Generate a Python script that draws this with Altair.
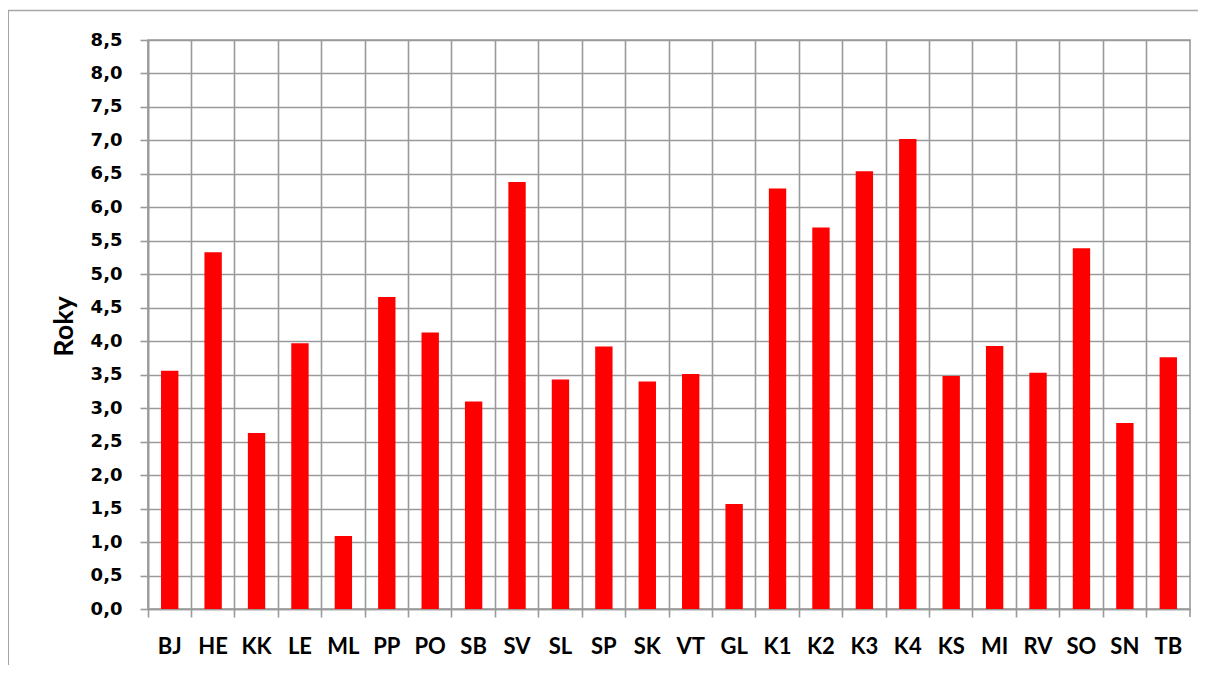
import altair as alt
import pandas as pd

categories = ["BJ", "HE", "KK", "LE", "ML", "PP", "PO", "SB", "SV", "SL", "SP", "SK",
              "VT", "GL", "K1", "K2", "K3", "K4", "KS", "MI", "RV", "SO", "SN", "TB"]
values = [3.56, 5.33, 2.63, 3.97, 1.09, 4.66, 4.13, 3.10, 6.38, 3.43, 3.92, 3.40,
          3.51, 1.57, 6.28, 5.70, 6.54, 7.02, 3.48, 3.93, 3.53, 5.39, 2.78, 3.76]
y_ticks = [i * 0.5 for i in range(18)]
title_text = "1990 – 2022 – Východné Slovensko"
y_title = "Roky"

W, H = 1042, 569
GRID = "#9a9a9a"

df = pd.DataFrame({"cat": categories, "val": values})

bars = alt.Chart(df).mark_bar(color="#ff0000", width=alt.RelativeBandSize(0.4)).encode(
    x=alt.X("cat:N", sort=categories,
            scale=alt.Scale(paddingInner=0, paddingOuter=0),
            axis=alt.Axis(title=None, labelAngle=0, bandPosition=0, grid=True,
                          gridColor=GRID, gridWidth=1.6, domainColor=GRID, domainWidth=1.6,
                          tickColor=GRID, tickWidth=1.6, tickSize=8,
                          labelFont="Lato", labelFontSize=22, labelFontWeight="bold",
                          labelColor="#000000", labelPadding=19)),
    y=alt.Y("val:Q", scale=alt.Scale(domain=[0, 8.5], nice=False, zero=True),
            axis=alt.Axis(title=y_title, values=y_ticks, grid=True,
                          gridColor=GRID, gridWidth=1.6, domainColor=GRID, domainWidth=1.6,
                          tickColor=GRID, tickWidth=1.6, tickSize=8,
                          labelExpr="replace(format(datum.value, '.1f'), '.', ',')",
                          labelFont="DejaVu Sans", labelFontSize=18, labelFontWeight="bold",
                          labelColor="#000000", labelPadding=18,
                          titleFont="Lato", titleFontSize=27, titleFontWeight="bold",
                          titleColor="#000000", titleAngle=270, titleAlign="center",
                          titleBaseline="alphabetic", titleX=-76, titleY=286)),
)

one = pd.DataFrame({"a": [0]})

end_tick = alt.Chart(one).mark_rule(color=GRID, strokeWidth=1.6).encode(
    x=alt.value(W), y=alt.value(H), y2=alt.value(H + 8))

frame_left = alt.Chart(one).mark_rule(color="#a6a6a6", strokeWidth=1.5).encode(
    x=alt.value(-139.7), y=alt.value(-29.5), y2=alt.value(H + 80))
frame_top = alt.Chart(one).mark_rule(color="#a6a6a6", strokeWidth=1.5).encode(
    x=alt.value(-140), x2=alt.value(W + 20), y=alt.value(-29.5))

title = alt.Chart(one).mark_text(
    text=title_text, font="Liberation Sans", fontSize=28, fontWeight="bold",
    fontStyle="italic", align="left", baseline="alphabetic", color="#000000"
).encode(x=alt.value(12), y=alt.value(-38))

chart = alt.layer(bars, end_tick, frame_left, frame_top, title).properties(
    width=W, height=H,
    autosize=alt.AutoSizeParams(type="none"),
    padding={"left": 140, "top": 32, "right": 8, "bottom": 56},
    background="#ffffff",
).configure_view(stroke=GRID, strokeWidth=1.6)

chart.save("out.html", embed_options={"renderer": "svg", "actions": False})
